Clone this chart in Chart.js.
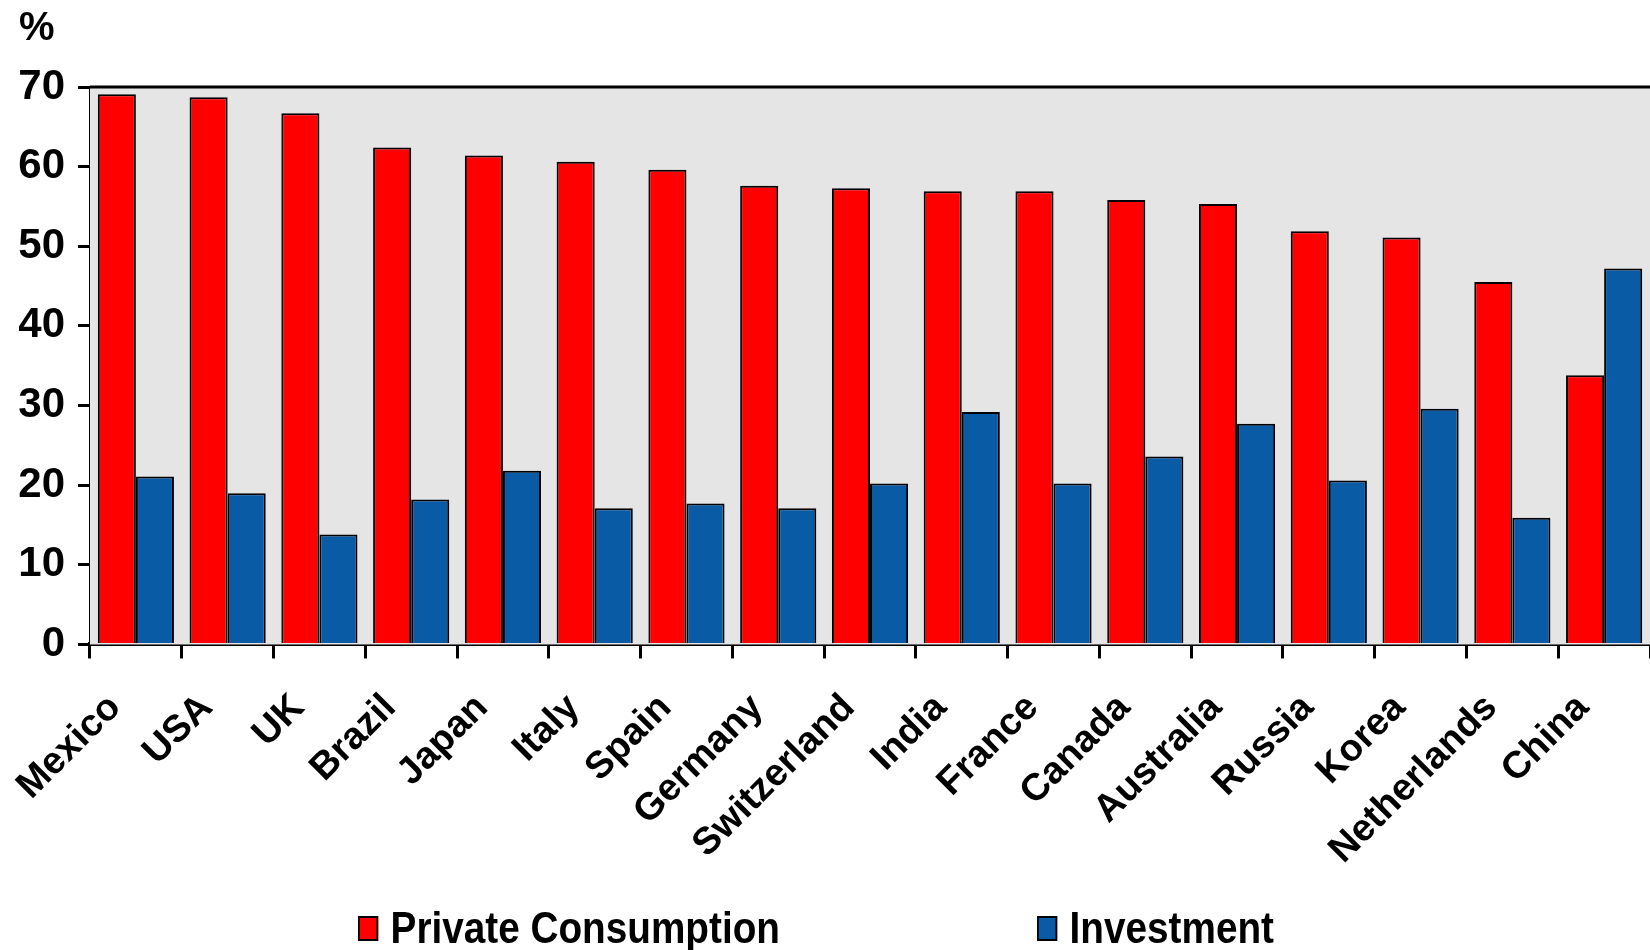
<!DOCTYPE html>
<html>
<head>
<meta charset="utf-8">
<script src="https://cdn.jsdelivr.net/npm/chart.js@4"></script>
<style>
  body { margin: 0; background: #fff; }
  #wrap { position: relative; width: 1650px; height: 950px; }
  .legend-item {
    position: absolute; top: 903px;
    display: flex; align-items: center;
    font-family: "Liberation Sans", Arial, sans-serif;
    font-weight: bold; font-size: 44px; line-height: 50px; color: #000;
    transform: scaleX(0.88); transform-origin: left center;
    white-space: nowrap;
  }
  .legend-item .box { width: 19px; height: 21px; border: 2px solid #000; margin-right: 14px; }
</style>
</head>
<body>
<div id="wrap">
  <canvas id="mix-chart" width="1650" height="950"></canvas>
</div>
<script>
const countries = ["Mexico", "USA", "UK", "Brazil", "Japan", "Italy", "Spain", "Germany",
  "Switzerland", "India", "France", "Canada", "Australia", "Russia", "Korea", "Netherlands", "China"];
const consumption = [69.1, 68.7, 66.7, 62.4, 61.4, 60.6, 59.6, 57.6, 57.3, 56.9, 56.9, 55.8, 55.3, 51.9, 51.1, 45.5, 33.8];
const investment = [21.1, 19.0, 13.8, 18.2, 21.8, 17.1, 17.7, 17.1, 20.2, 29.2, 20.2, 23.6, 27.7, 20.6, 29.6, 15.9, 47.2];
const seriesNames = ["Private Consumption", "Investment"];
const seriesColors = ["#ff0000", "#0a5ba6"];
const yTicks = [0, 10, 20, 30, 40, 50, 60, 70];

const fontMain = "'Liberation Sans', Arial, sans-serif";
const legendLeft = [358, 1037];

// grey plot box with a top edge line
const plotBg = {
  id: "plotBg",
  beforeDatasetsDraw(chart) {
    const { ctx, chartArea: a } = chart;
    ctx.save();
    ctx.fillStyle = "#e5e5e5";
    ctx.fillRect(a.left, a.top, a.right - a.left, a.bottom - a.top);
    ctx.strokeStyle = "#000";
    ctx.lineWidth = 3;
    ctx.beginPath();
    ctx.moveTo(a.left, a.top);
    ctx.lineTo(a.right, a.top);
    ctx.stroke();
    ctx.restore();
  }
};

function buildLegend() {
  const wrap = document.getElementById("wrap");
  seriesNames.forEach((name, i) => {
    const item = document.createElement("div");
    item.classList.add("legend-item");
    item.style.left = legendLeft[i] + "px";
    const box = document.createElement("span");
    box.classList.add("box");
    box.style.background = seriesColors[i];
    item.appendChild(box);
    item.appendChild(document.createTextNode(name));
    wrap.appendChild(item);
  });
}

function renderChart() {
  const ctx = document.getElementById("mix-chart").getContext("2d");
  new Chart(ctx, {
    type: "bar",
    data: {
      labels: countries,
      datasets: [consumption, investment].map((vals, i) => ({
        label: seriesNames[i],
        data: vals,
        backgroundColor: seriesColors[i],
        borderColor: "#000",
        borderWidth: 2,
        categoryPercentage: 0.83,
        barPercentage: 1.0
      }))
    },
    options: {
      responsive: false,
      animation: false,
      layout: { padding: { left: 19, right: 0, top: 0, bottom: 50 } },
      plugins: {
        legend: { display: false },
        tooltip: { enabled: false },
        title: {
          display: true,
          text: "%",
          align: "start",
          color: "#000",
          font: { family: fontMain, size: 40, weight: "bold" },
          padding: { top: 5, bottom: 34 }
        }
      },
      scales: {
        x: {
          // rotated labels may hang past the plot edges; don't shrink the plot for them
          afterFit: scale => { scale.paddingLeft = 0; scale.paddingRight = 0; },
          grid: { drawOnChartArea: false, drawTicks: true, tickLength: 14, color: "#000", lineWidth: 3 },
          border: { display: true, color: "#000", width: 4 },
          ticks: {
            autoSkip: false, maxRotation: 45, minRotation: 45, padding: 27, labelOffset: -21,
            color: "#000",
            font: { family: fontMain, size: 38, weight: "bold" }
          }
        },
        y: {
          min: 0, max: 70,
          afterBuildTicks: axis => { axis.ticks = yTicks.map(v => ({ value: v })); },
          // chart.js reserves padding on both sides of the labels; keep only the inner gap
          afterFit: axis => { axis.width = 71; },
          grid: { drawOnChartArea: false, drawTicks: true, tickLength: 12, color: "#000", lineWidth: 3 },
          border: { display: true, color: "#000", width: 3 },
          ticks: {
            padding: 13,
            color: "#000",
            font: { family: fontMain, size: 42, weight: "bold" }
          }
        }
      }
    },
    plugins: [plotBg]
  });
}

buildLegend();
renderChart();
</script>
</body>
</html>
